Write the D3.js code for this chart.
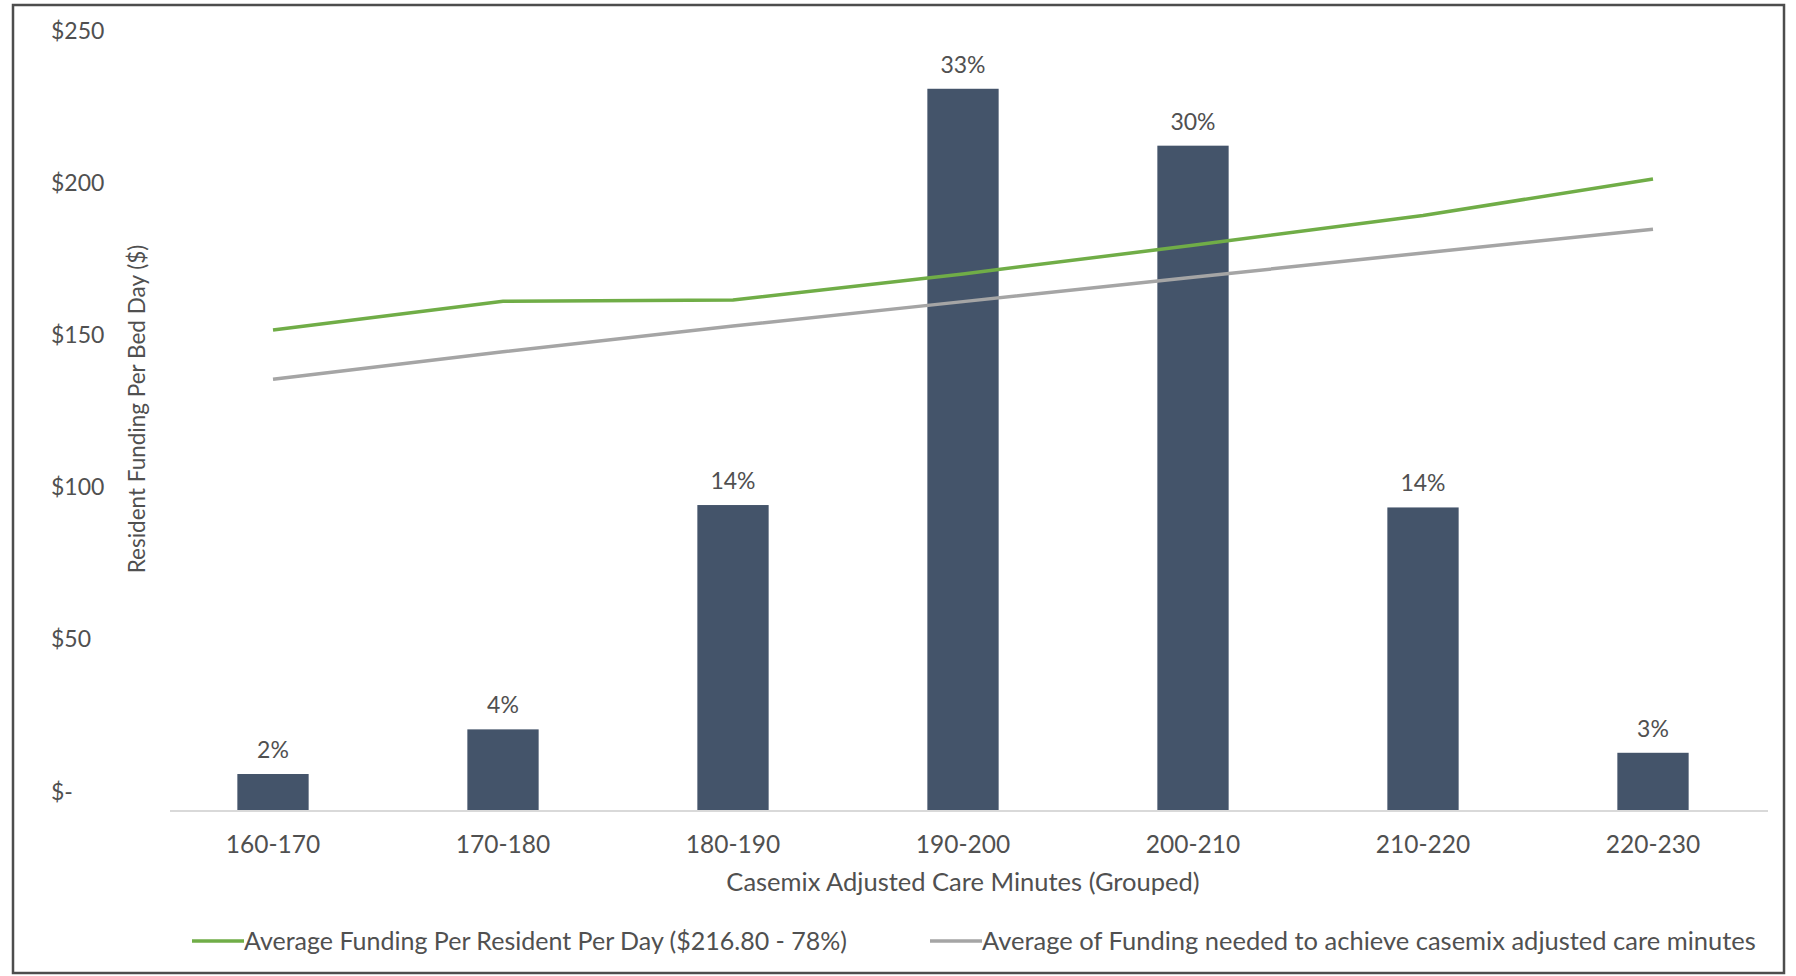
<!DOCTYPE html>
<html>
<head>
<meta charset="utf-8">
<script src="https://cdn.jsdelivr.net/npm/d3@7"></script>
<style>
  body { margin: 0; background: #fff; }
  svg text { font-family: Lato, "Open Sans", sans-serif; fill: #505050; }
</style>
</head>
<body>
<script>
const categories = ['160-170', '170-180', '180-190', '190-200', '200-210', '210-220', '220-230'];
// share of residents in each group (%), bar heights
const sharePct = [1.69, 3.73, 13.98, 33.0, 30.4, 13.87, 2.66];
// $ per resident per day
const avgFunding = [151.7, 161.1, 161.5, 170.1, 179.5, 189.3, 201.3];
const neededFunding = [135.5, 144.5, 153.0, 161.0, 169.0, 177.0, 184.8];
const yTicks = [0, 50, 100, 150, 200, 250];
const yTickLabels = ['$-', '$50', '$100', '$150', '$200', '$250'];
const seriesNames = [
  'Average Funding Per Resident Per Day ($216.80 - 78%)',
  'Average of Funding needed to achieve casemix adjusted care minutes'
];

const W = 1796, H = 976;
const BAR = '#44546a', GREEN = '#70ad47', GREY = '#a5a5a5';

const svg = d3.select('body').append('svg')
  .attr('width', W)
  .attr('height', H);

svg.append('rect')
  .attr('x', 13).attr('y', 5)
  .attr('width', 1771).attr('height', 968)
  .attr('fill', '#fff')
  .attr('stroke', '#4d4d4d')
  .attr('stroke-width', 2.5);

const x = d3.scaleBand()
  .domain(categories)
  .range([158, 1768])
  .paddingInner(0.69)
  .paddingOuter(0.345);

const y = d3.scaleLinear().domain([0, 250]).range([791.7, 30.7]);
const y2 = d3.scaleLinear().domain([0, 35]).range([811, 45]);

// y axis labels (left aligned like the excel accounting format)
const yAxis = svg.append('g')
  .attr('transform', 'translate(51,0)')
  .call(d3.axisLeft(y).tickValues(yTicks).tickFormat((d, i) => yTickLabels[i]).tickSize(0));
yAxis.select('.domain').remove();
yAxis.selectAll('text')
  .attr('x', 0)
  .attr('text-anchor', 'start')
  .style('font-size', '23px');

// bars
svg.append('g').selectAll('rect')
  .data(sharePct)
  .join('rect')
  .attr('x', (d, i) => x(categories[i]))
  .attr('width', x.bandwidth())
  .attr('y', d => y2(d))
  .attr('height', d => y2(0) - y2(d))
  .attr('fill', BAR);

svg.append('g').selectAll('text')
  .data(sharePct)
  .join('text')
  .attr('x', (d, i) => x(categories[i]) + x.bandwidth() / 2)
  .attr('y', d => y2(d) - 16)
  .attr('text-anchor', 'middle')
  .style('font-size', '23px')
  .text(d => Math.round(d) + '%');

// x axis
const xAxis = svg.append('g')
  .attr('transform', `translate(0,${y2(0)})`)
  .call(d3.axisBottom(x).tickSize(0).tickSizeOuter(0));
xAxis.select('.domain').remove();
xAxis.append('line')
  .attr('x1', 170).attr('x2', x.range()[1])
  .attr('stroke', '#d9d9d9')
  .attr('stroke-width', 2);
xAxis.selectAll('text')
  .attr('y', 33)
  .attr('dy', '0.35em')
  .style('font-size', '24.5px');

// lines
const cx = (d, i) => x(categories[i]) + x.bandwidth() / 2;
const line = d3.line().x(cx).y(d => y(d));

svg.append('path')
  .datum(neededFunding)
  .attr('d', line)
  .attr('fill', 'none')
  .attr('stroke', GREY)
  .attr('stroke-width', 3.5);

svg.append('path')
  .datum(avgFunding)
  .attr('d', line)
  .attr('fill', 'none')
  .attr('stroke', GREEN)
  .attr('stroke-width', 3.5);

// axis titles
svg.append('text')
  .attr('x', 963).attr('y', 882)
  .attr('dy', '0.35em')
  .attr('text-anchor', 'middle')
  .style('font-size', '25.5px')
  .text('Casemix Adjusted Care Minutes (Grouped)');

svg.append('text')
  .attr('transform', 'translate(137,409) rotate(-90)')
  .attr('dy', '0.35em')
  .attr('text-anchor', 'middle')
  .style('font-size', '22.5px')
  .text('Resident Funding Per Bed Day ($)');

// legend
const legend = svg.append('g').attr('transform', 'translate(0,941)');
const legendItems = [
  { name: seriesNames[0], color: GREEN, x0: 192, size: 25 },
  { name: seriesNames[1], color: GREY, x0: 930, size: 25.5 }
];
legendItems.forEach(item => {
  legend.append('line')
    .attr('x1', item.x0).attr('x2', item.x0 + 52)
    .attr('y1', 0).attr('y2', 0)
    .attr('stroke', item.color)
    .attr('stroke-width', 3.5);
  legend.append('text')
    .attr('x', item.x0 + 52)
    .attr('dy', '0.35em')
    .style('font-size', item.size + 'px')
    .text(item.name);
});
</script>
</body>
</html>
